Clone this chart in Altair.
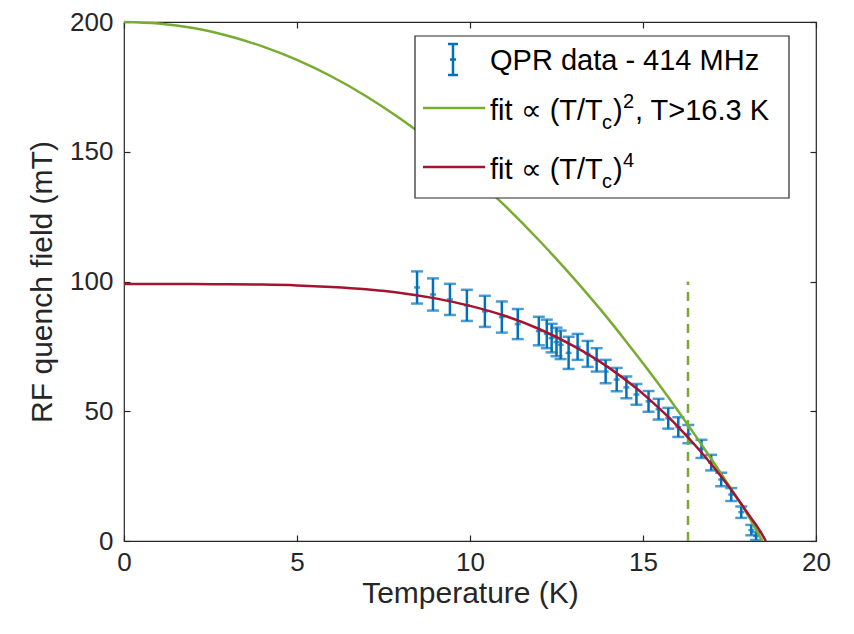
import altair as alt
import pandas as pd

T_data = [8.47, 8.93, 9.42, 9.91, 10.43, 10.92, 11.38, 11.99, 12.22, 12.36, 12.50, 12.62,
          12.85, 13.11, 13.40, 13.66, 13.92, 14.24, 14.52, 14.81, 15.16, 15.45, 15.73,
          16.02, 16.31, 16.69, 16.97, 17.26, 17.55, 17.84, 18.13, 18.27]
B_data = [97.7, 95.0, 93.1, 90.8, 88.5, 86.3, 83.6, 80.9, 79.8, 78.2, 76.7, 75.6,
          72.5, 74.8, 72.1, 69.8, 65.3, 62.2, 59.2, 56.5, 53.8, 50.8, 47.3,
          43.9, 41.2, 35.5, 30.2, 23.7, 17.9, 11.1, 4.2, 1.9]
B_err = [6.2, 6.2, 6.0, 6.0, 6.0, 6.0, 5.8, 5.5, 5.5, 5.5, 5.5, 5.5,
         6.2, 5.0, 5.0, 4.5, 4.5, 4.5, 4.2, 4.0, 4.0, 4.0, 4.0,
         3.8, 3.5, 3.5, 3.0, 2.6, 2.5, 2.2, 2.0, 1.5]

# fit curves
T_fit = [0, 1, 2, 3, 4, 5, 6, 7, 8, 9, 10, 11, 12, 13, 14, 14.5, 15, 15.5, 16, 16.5, 17, 17.5, 18, 18.45, 18.55]
B_fit2 = [200, 199.4, 197.7, 194.7, 190.6, 185.4, 179.0, 171.4, 162.6, 152.7, 141.6, 129.3, 115.8,
          101.2, 85.5, 77.1, 68.5, 59.6, 50.4, 40.9, 31.1, 21.0, 10.7, 0.0, None]
B_fit4 = [99.0, 99.0, 99.0, 98.9, 98.8, 98.5, 97.9, 97.0, 95.6, 93.5, 90.6, 86.8, 81.7,
          75.1, 66.9, 62.0, 56.7, 50.7, 44.2, 37.0, 29.2, 20.6, 11.2, 2.4, 0.0]

T_cut = [16.3]
B_cut_lo = [0]
B_cut_hi = [100]

x_ticks = [0, 5, 10, 15, 20]
y_ticks = [0, 50, 100, 150, 200]

BLUE = "#0072BD"
GREEN = "#77AC30"
RED = "#A2142F"
AX = "#262626"
FONT = "Liberation Sans"

pts = pd.DataFrame({"T": T_data, "B": B_data, "err": B_err})
pts["lo"] = pts["B"] - pts["err"]
pts["hi"] = pts["B"] + pts["err"]

fit = pd.DataFrame({"T": T_fit, "g": B_fit2, "r": B_fit4})
cut = pd.DataFrame({"T": T_cut, "lo": B_cut_lo, "hi": B_cut_hi})

xs = alt.Scale(domain=[0, 20], nice=False)
ys = alt.Scale(domain=[0, 200], nice=False)

ax_common = dict(
    domain=False, grid=False, ticks=True, tickSize=6, tickColor=AX, tickWidth=1.2,
    labelFont=FONT, labelFontSize=26, labelColor=AX, titleFont=FONT, titleFontSize=30,
    titleColor=AX, titleFontWeight="normal", offset=-6, labelFlush=False,
)

x_axis = alt.Axis(values=x_ticks, title="Temperature (K)", labelPadding=8, titlePadding=3, **ax_common)
y_axis = alt.Axis(values=y_ticks, title="RF quench field (mT)", labelPadding=11, titlePadding=12, **ax_common)

base = alt.Chart(pts)

bars = base.mark_rule(color=BLUE, strokeWidth=2.5).encode(
    x=alt.X("T:Q", scale=xs, axis=x_axis),
    y=alt.Y("lo:Q", scale=ys, axis=y_axis), y2="hi:Q")
caps = [
    base.mark_tick(color=BLUE, orient="horizontal", size=sz, thickness=2.5).encode(
        x=alt.X("T:Q", scale=xs, axis=None), y=alt.Y(f"{fld}:Q", scale=ys, axis=None))
    for fld, sz in (("lo", 12), ("hi", 12), ("B", 6))
]

green = alt.Chart(fit).mark_line(color=GREEN, strokeWidth=2.5, interpolate="monotone").encode(
    x=alt.X("T:Q", scale=xs, axis=None), y=alt.Y("g:Q", scale=ys, axis=None))
red = alt.Chart(fit).mark_line(color=RED, strokeWidth=2.5, interpolate="monotone").encode(
    x=alt.X("T:Q", scale=xs, axis=None), y=alt.Y("r:Q", scale=ys, axis=None))
dash = alt.Chart(cut).mark_rule(color=GREEN, strokeWidth=2.5, strokeDash=[9, 7]).encode(
    x=alt.X("T:Q", scale=xs, axis=None), y=alt.Y("lo:Q", scale=ys, axis=None), y2="hi:Q")

# top / right inward ticks (box)
top_ax = alt.Chart(cut).mark_point(opacity=0).encode(
    x=alt.X("T:Q", scale=xs, axis=alt.Axis(orient="top", values=x_ticks, labels=False, title=None,
                                             domain=False, ticks=True, tickSize=6, tickColor=AX,
                                             tickWidth=1.2, offset=-6, grid=False)),
    y=alt.Y("lo:Q", scale=ys, axis=alt.Axis(orient="right", values=y_ticks, labels=False, title=None,
                                              domain=False, ticks=True, tickSize=6, tickColor=AX,
                                              tickWidth=1.2, offset=-6, grid=False)))

# ---- legend ----
TOP_SHIFT = -5
lg = []
lg.append(alt.Chart(cut).mark_rect(fill="white", stroke=AX, strokeWidth=1.2).encode(
    x=alt.value(291), x2=alt.value(665), y=alt.value(19 + TOP_SHIFT), y2=alt.value(181 + TOP_SHIFT)))
lg.append(alt.Chart(cut).mark_rule(color=BLUE, strokeWidth=2.5).encode(
    x=alt.value(329), y=alt.value(27 + TOP_SHIFT), y2=alt.value(58 + TOP_SHIFT)))
for yy, hw in ((27, 5), (58, 5), (42.5, 3)):
    lg.append(alt.Chart(cut).mark_rule(color=BLUE, strokeWidth=2.5).encode(
        x=alt.value(329 - hw), x2=alt.value(329 + hw), y=alt.value(yy + TOP_SHIFT)))
lg.append(alt.Chart(cut).mark_rule(color=GREEN, strokeWidth=2.5).encode(
    x=alt.value(299), x2=alt.value(361), y=alt.value(91 + TOP_SHIFT)))
lg.append(alt.Chart(cut).mark_rule(color=RED, strokeWidth=2.5).encode(
    x=alt.value(299), x2=alt.value(361), y=alt.value(150 + TOP_SHIFT)))

def txt(s, x, y, size=29):
    return alt.Chart(cut).mark_text(text=s, align="left", baseline="alphabetic", font=FONT,
                                    fontSize=size, color="black").encode(x=alt.value(x), y=alt.value(y + TOP_SHIFT))

lg.append(txt("QPR data - 414 MHz", 366, 53))
for base_y, sup in ((103, "2"), (162, "4")):
    lg.append(txt("fit \u221d (T/T", 366, base_y))
    lg.append(txt("c", 478, base_y + 9, 20))
    lg.append(txt(")", 489, base_y))
    lg.append(txt(sup, 499, base_y - 12, 20))
lg.append(txt(", T>16.3 K", 511, 103))

chart = alt.layer(bars, *caps, green, dash, red, top_ax, *lg).resolve_axis(
    x="independent", y="independent"
).properties(
    width=692, height=519,
    autosize=alt.AutoSizeParams(type="none"),
    padding={"left": 116, "top": 14, "right": 22, "bottom": 85},
).configure_view(stroke=AX, strokeWidth=1.2)

chart.save("out.html", embed_options={"renderer": "svg", "actions": False})
